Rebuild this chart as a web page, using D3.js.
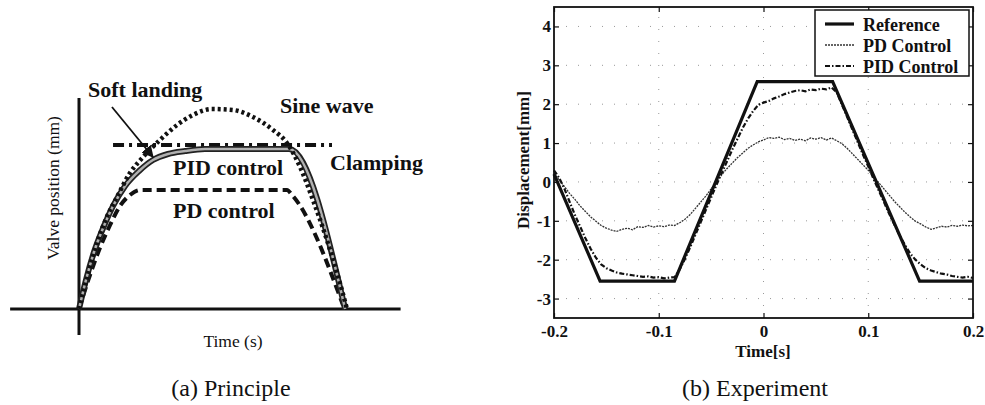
<!DOCTYPE html>
<html>
<head>
<meta charset="utf-8">
<script src="https://cdn.jsdelivr.net/npm/d3@7"></script>
<style>
  body { margin: 0; background: #fff; }
  svg, svg text { font-family: 'Liberation Serif', 'DejaVu Serif', serif; }
  svg text { fill: #111; }
</style>
</head>
<body>
<svg id="chart" width="985" height="405" font-family="Liberation Serif, DejaVu Serif, serif"></svg>
<script>
/* (a) Principle: normalised time 0..1, normalised valve position 0..1 */
var sineT = [0, .015, .041, .067, .104, .142, .190, .239, .302, .366, .425, .496, .575, .649, .724, .776, .825, .873, .925, .963, 1];
var sineV = [0, .08, .21, .33, .46, .56, .68, .76, .845, .92, .97, 1.0, .995, .96, .895, .83, .71, .545, .345, .18, 0];

var pidT = [0, .026, .056, .090, .127, .172, .224, .276, .332, .396, .470, .784, .993];
var pidV = [0, .145, .285, .405, .515, .615, .69, .745, .775, .79, .80, .80, 0];

var pdT = [0, .041, .078, .116, .153, .190, .228, .776, .795, .985];
var pdV = [0, .17, .305, .42, .515, .57, .595, .595, .57, .02];

var clampT = [.127, .944];
var clampV = [.82, .82];

/* (b) Experiment: time [s], displacement [mm] */
var refT = [-0.2, -0.156, -0.085, -0.006, 0.066, 0.149, 0.2];
var refV = [0.2, -2.55, -2.55, 2.58, 2.58, -2.55, -2.55];

// PD and PID sampled every 5 ms from -0.2 s to 0.2 s
var t0 = -0.2, dt = 0.005;
var pdCtrl = [0.22, 0.05, -0.12, -0.30, -0.45, -0.62, -0.76, -0.90, -1.01, -1.12,
  -1.19, -1.24, -1.27, -1.22, -1.19, -1.23, -1.15, -1.17, -1.12, -1.16,
  -1.13, -1.15, -1.11, -1.12, -1.05, -0.96, -0.84, -0.68, -0.52, -0.36,
  -0.18, 0.0, 0.18, 0.34, 0.48, 0.62, 0.74, 0.86, 0.95, 1.03,
  1.08, 1.14, 1.12, 1.15, 1.09, 1.12, 1.07, 1.10, 1.06, 1.13,
  1.10, 1.14, 1.08, 1.13, 1.06, 0.98, 0.86, 0.72, 0.58, 0.44,
  0.30, 0.14, -0.02, -0.18, -0.34, -0.50, -0.64, -0.78, -0.90, -1.01,
  -1.08, -1.16, -1.22, -1.18, -1.14, -1.16, -1.12, -1.14, -1.11, -1.13, -1.12];
var pidCtrl = [0.30, 0.10, -0.18, -0.52, -0.85, -1.15, -1.45, -1.72, -1.95, -2.12,
  -2.22, -2.28, -2.33, -2.36, -2.38, -2.40, -2.42, -2.44, -2.43, -2.46,
  -2.45, -2.48, -2.46, -2.45, -2.25, -1.98, -1.68, -1.36, -1.04, -0.72,
  -0.40, -0.08, 0.22, 0.52, 0.82, 1.10, 1.38, 1.62, 1.82, 1.98,
  2.04, 2.08, 2.15, 2.20, 2.26, 2.30, 2.34, 2.36, 2.33, 2.38,
  2.36, 2.40, 2.38, 2.43, 2.30, 1.98, 1.66, 1.34, 1.02, 0.70,
  0.40, 0.08, -0.22, -0.52, -0.82, -1.10, -1.38, -1.62, -1.84, -2.00,
  -2.12, -2.22, -2.28, -2.32, -2.36, -2.38, -2.42, -2.44, -2.46, -2.44, -2.47];

var xTicks = [-0.2, -0.1, 0, 0.1, 0.2];
var xTickLabels = ["-0.2", "-0.1", "0", "0.1", "0.2"];
var yTicks = [-3, -2, -1, 0, 1, 2, 3, 4];
var yTickLabels = ["-3", "-2", "-1", "0", "1", "2", "3", "4"];
var legendNames = ["Reference", "PD Control", "PID Control"];

var SERIF = 'Liberation Serif, DejaVu Serif, serif';

function zip(a, b) { return a.map(function(d, i) { return [d, b[i]]; }); }

var svg = d3.select('#chart');

/* ---------- (a) Principle ---------- */
var xA = d3.scaleLinear().domain([0, 1]).range([79, 347]);
var yA = d3.scaleLinear().domain([0, 1]).range([309, 109]);
var gA = svg.append('g');

// axes lines
gA.append('line')
  .attr('x1', xA(-0.257)).attr('x2', xA(1.2))
  .attr('y1', yA(0)).attr('y2', yA(0))
  .attr('stroke', '#111').attr('stroke-width', 3);
gA.append('line')
  .attr('x1', xA(0)).attr('x2', xA(0))
  .attr('y1', yA(-0.13)).attr('y2', yA(1.055))
  .attr('stroke', '#111').attr('stroke-width', 3);

var lineA = d3.line()
  .x(function(d) { return xA(d[0]); })
  .y(function(d) { return yA(d[1]); })
  .curve(d3.curveMonotoneX);

// clamping (dash-dot)
gA.append('path').datum(zip(clampT, clampV))
  .attr('d', d3.line().x(function(d) { return xA(d[0]); }).y(function(d) { return yA(d[1]); }))
  .attr('fill', 'none').attr('stroke', '#111').attr('stroke-width', 4)
  .attr('stroke-dasharray', '11,5,3,5');

// PD control (dashed)
gA.append('path').datum(zip(pdT, pdV))
  .attr('d', lineA)
  .attr('fill', 'none').attr('stroke', '#111').attr('stroke-width', 4)
  .attr('stroke-dasharray', '9,5');

// PID control (grey band with dark edge)
gA.append('path').datum(zip(pidT, pidV))
  .attr('d', lineA)
  .attr('fill', 'none').attr('stroke', '#222').attr('stroke-width', 6);
gA.append('path').datum(zip(pidT, pidV))
  .attr('d', lineA)
  .attr('fill', 'none').attr('stroke', '#b0b0b0').attr('stroke-width', 2.5);

// sine wave (dotted)
gA.append('path').datum(zip(sineT, sineV))
  .attr('d', lineA)
  .attr('fill', 'none').attr('stroke', '#111').attr('stroke-width', 4.5)
  .attr('stroke-dasharray', '3,3');

// soft landing arrow
svg.append('defs').append('marker')
  .attr('id', 'arrow').attr('viewBox', '0 0 10 10')
  .attr('refX', 9).attr('refY', 5)
  .attr('markerWidth', 12).attr('markerHeight', 12)
  .attr('markerUnits', 'userSpaceOnUse')
  .attr('orient', 'auto')
  .append('path').attr('d', 'M0,0 L10,5 L0,10 z').attr('fill', '#111');
gA.append('line')
  .attr('x1', xA(.123)).attr('y1', yA(1.01))
  .attr('x2', xA(.276)).attr('y2', yA(.76))
  .attr('stroke', '#111').attr('stroke-width', 1.8)
  .attr('marker-end', 'url(#arrow)');

var labelsA = [
  { text: 'Soft landing', x: 88, y: 97 },
  { text: 'Sine wave', x: 280, y: 113 },
  { text: 'Clamping', x: 330, y: 170 },
  { text: 'PID control', x: 173, y: 175 },
  { text: 'PD control', x: 173, y: 218 }
];
gA.selectAll('text.lab').data(labelsA).enter().append('text')
  .attr('class', 'lab')
  .attr('x', function(d) { return d.x; })
  .attr('y', function(d) { return d.y; })
  .attr('font-family', SERIF)
  .attr('font-size', 22).attr('font-weight', 'bold')
  .text(function(d) { return d.text; });

gA.append('text')
  .attr('transform', 'translate(59,188) rotate(-90)')
  .attr('text-anchor', 'middle').attr('font-family', SERIF).attr('font-size', 17.5)
  .text('Valve position (mm)');
gA.append('text')
  .attr('x', 233).attr('y', 347)
  .attr('text-anchor', 'middle').attr('font-family', SERIF).attr('font-size', 17.5)
  .text('Time (s)');

/* ---------- (b) Experiment ---------- */
var xB = d3.scaleLinear().domain([-0.2, 0.2]).range([554, 973]);
var yB = d3.scaleLinear().domain([-3.5, 4.5]).range([318, 7]);
var gB = svg.append('g');

// dotted grid
gB.selectAll('line.gx').data(xTicks.slice(1, -1)).enter().append('line')
  .attr('x1', function(d) { return xB(d); }).attr('x2', function(d) { return xB(d); })
  .attr('y1', yB(-3.5)).attr('y2', yB(4.5))
  .attr('stroke', '#999').attr('stroke-width', 1).attr('stroke-dasharray', '1,11');
gB.selectAll('line.gy').data(yTicks).enter().append('line')
  .attr('y1', function(d) { return yB(d); }).attr('y2', function(d) { return yB(d); })
  .attr('x1', xB(-0.2)).attr('x2', xB(0.2))
  .attr('stroke', '#999').attr('stroke-width', 1).attr('stroke-dasharray', '1,11');

var lineB = d3.line()
  .x(function(d) { return xB(d[0]); })
  .y(function(d) { return yB(d[1]); });

function sampled(vals) {
  return vals.map(function(v, i) { return [t0 + i * dt, v]; });
}

gB.append('path').datum(sampled(pdCtrl))
  .attr('d', lineB).attr('fill', 'none')
  .attr('stroke', '#333').attr('stroke-width', 1.3).attr('stroke-dasharray', '2,1');
gB.append('path').datum(sampled(pidCtrl))
  .attr('d', lineB).attr('fill', 'none')
  .attr('stroke', '#111').attr('stroke-width', 2.2).attr('stroke-dasharray', '5,2,1.5,2');
gB.append('path').datum(zip(refT, refV))
  .attr('d', lineB).attr('fill', 'none')
  .attr('stroke', '#111').attr('stroke-width', 3.2).attr('stroke-linejoin', 'miter');

// axes with inward ticks
var tickFont = function(sel) {
  sel.attr('font-family', SERIF);
  sel.selectAll('text').attr('font-size', 17).attr('font-weight', 'bold')
    .attr('font-family', SERIF).attr('fill', '#111');
  sel.select('.domain').remove();
  sel.selectAll('.tick line').attr('stroke', '#111').attr('stroke-width', 1.2);
};
gB.append('g').attr('transform', 'translate(0,' + yB(-3.5) + ')')
  .call(d3.axisBottom(xB).tickValues(xTicks).tickSize(-5).tickPadding(7)
    .tickFormat(function(d, i) { return xTickLabels[i]; }))
  .call(tickFont);
gB.append('g').attr('transform', 'translate(0,' + yB(4.5) + ')')
  .call(d3.axisTop(xB).tickValues(xTicks).tickSize(-5).tickFormat(''))
  .call(tickFont);
gB.append('g').attr('transform', 'translate(' + xB(-0.2) + ',0)')
  .call(d3.axisLeft(yB).tickValues(yTicks).tickSize(-5).tickPadding(3)
    .tickFormat(function(d, i) { return yTickLabels[i]; }))
  .call(tickFont);
gB.append('g').attr('transform', 'translate(' + xB(0.2) + ',0)')
  .call(d3.axisRight(yB).tickValues(yTicks).tickSize(-5).tickFormat(''))
  .call(tickFont);

gB.append('rect')
  .attr('x', xB(-0.2)).attr('y', yB(4.5))
  .attr('width', xB(0.2) - xB(-0.2)).attr('height', yB(-3.5) - yB(4.5))
  .attr('fill', 'none').attr('stroke', '#111').attr('stroke-width', 1.8);

gB.append('text')
  .attr('x', 763).attr('y', 357).attr('text-anchor', 'middle')
  .attr('font-family', SERIF).attr('font-size', 17).attr('font-weight', 'bold')
  .text('Time[s]');
gB.append('text')
  .attr('transform', 'translate(529,160) rotate(-90)')
  .attr('text-anchor', 'middle').attr('font-family', SERIF)
  .attr('font-size', 17).attr('font-weight', 'bold')
  .text('Displacement[mm]');

// legend
var lg = gB.append('g');
lg.append('rect').attr('x', 815).attr('y', 10).attr('width', 154).attr('height', 66)
  .attr('fill', '#fff').attr('stroke', '#111').attr('stroke-width', 1.5);
var legStyles = [
  { w: 3.2, dash: null, c: '#111' },
  { w: 1.3, dash: '2,1', c: '#333' },
  { w: 2.2, dash: '5,2,1.5,2', c: '#111' }
];
legendNames.forEach(function(name, i) {
  var yy = 24 + i * 21;
  lg.append('line').attr('x1', 825).attr('x2', 854).attr('y1', yy).attr('y2', yy)
    .attr('stroke', legStyles[i].c).attr('stroke-width', legStyles[i].w)
    .attr('stroke-dasharray', legStyles[i].dash);
  lg.append('text').attr('x', 863).attr('y', yy + 7)
    .attr('font-family', SERIF)
    .attr('font-size', 18).attr('font-weight', 'bold').text(name);
});

/* captions */
svg.append('text').attr('x', 231).attr('y', 396).attr('text-anchor', 'middle')
  .attr('font-family', SERIF).attr('font-size', 24).text('(a) Principle');
svg.append('text').attr('x', 755).attr('y', 396).attr('text-anchor', 'middle')
  .attr('font-family', SERIF).attr('font-size', 24).text('(b) Experiment');
</script>
</body>
</html>
